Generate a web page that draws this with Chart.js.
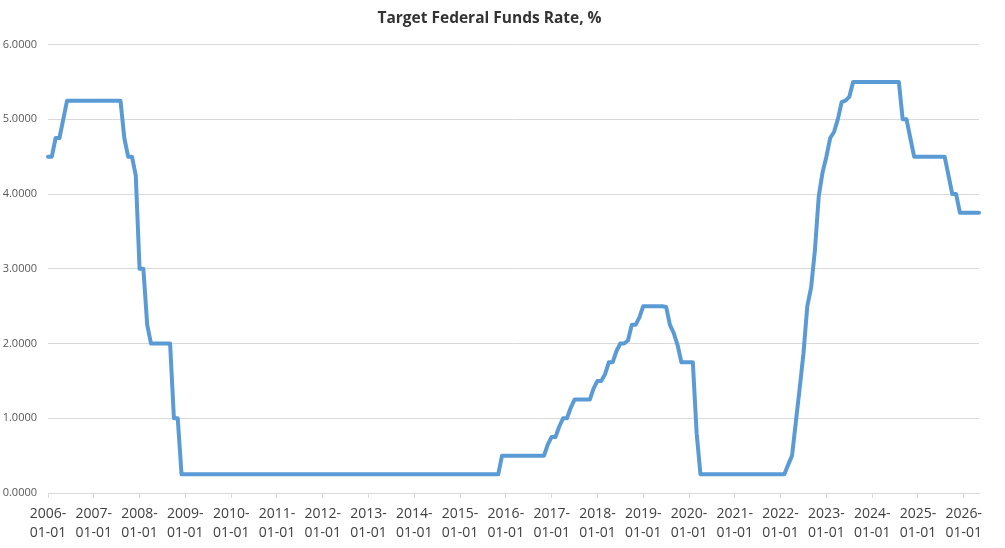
<!DOCTYPE html>
<html lang="en">
<head>
<meta charset="UTF-8">
<title>Target Federal Funds Rate</title>
<script src="https://cdn.jsdelivr.net/npm/chart.js"></script>
<style>
    body { margin: 0; background: #fff; }
    #wrap { width: 1005px; height: 548px; position: relative; }
</style>
</head>
<body>
<div id="wrap"><canvas id="myChart"></canvas></div>
<script>
// monthly values, 2006-01 .. 2026-05
const firstYear = 2006;
const monthsCount = 245;

const rate2006_2008 = [
    4.5, 4.5, 4.75, 4.75, 5.0, 5.25, 5.25, 5.25, 5.25, 5.25, 5.25, 5.25,
    5.25, 5.25, 5.25, 5.25, 5.25, 5.25, 5.25, 5.25, 4.75, 4.5, 4.5, 4.25,
    3.0, 3.0, 2.25, 2.0, 2.0, 2.0, 2.0, 2.0, 2.0, 1.0, 1.0, 0.25
];
const rate2009_2015 = [
    0.25, 0.25, 0.25, 0.25, 0.25, 0.25, 0.25, 0.25, 0.25, 0.25, 0.25, 0.25,
    0.25, 0.25, 0.25, 0.25, 0.25, 0.25, 0.25, 0.25, 0.25, 0.25, 0.25, 0.25,
    0.25, 0.25, 0.25, 0.25, 0.25, 0.25, 0.25, 0.25, 0.25, 0.25, 0.25, 0.25,
    0.25, 0.25, 0.25, 0.25, 0.25, 0.25, 0.25, 0.25, 0.25, 0.25, 0.25, 0.25,
    0.25, 0.25, 0.25, 0.25, 0.25, 0.25, 0.25, 0.25, 0.25, 0.25, 0.25, 0.25,
    0.25, 0.25, 0.25, 0.25, 0.25, 0.25, 0.25, 0.25, 0.25, 0.25, 0.25, 0.25,
    0.25, 0.25, 0.25, 0.25, 0.25, 0.25, 0.25, 0.25, 0.25, 0.25, 0.25, 0.5
];
const rate2016_2019 = [
    0.5, 0.5, 0.5, 0.5, 0.5, 0.5, 0.5, 0.5, 0.5, 0.5, 0.5, 0.65,
    0.75, 0.75, 0.89, 1.0, 1.0, 1.14, 1.25, 1.25, 1.25, 1.25, 1.25, 1.4,
    1.5, 1.5, 1.59, 1.75, 1.75, 1.9, 2.0, 2.0, 2.04, 2.25, 2.25, 2.35,
    2.5, 2.5, 2.5, 2.5, 2.5, 2.5, 2.49, 2.25, 2.14, 1.98, 1.75, 1.75
];
const rate2020_2022 = [
    1.75, 1.75, 0.8, 0.25, 0.25, 0.25, 0.25, 0.25, 0.25, 0.25, 0.25, 0.25,
    0.25, 0.25, 0.25, 0.25, 0.25, 0.25, 0.25, 0.25, 0.25, 0.25, 0.25, 0.25,
    0.25, 0.25, 0.38, 0.5, 0.95, 1.4, 1.87, 2.5, 2.75, 3.25, 3.97, 4.29
];
const rate2023_2026 = [
    4.5, 4.75, 4.83, 5.0, 5.23, 5.25, 5.3, 5.5, 5.5, 5.5, 5.5, 5.5,
    5.5, 5.5, 5.5, 5.5, 5.5, 5.5, 5.5, 5.5, 5.0, 5.0, 4.75, 4.5,
    4.5, 4.5, 4.5, 4.5, 4.5, 4.5, 4.5, 4.5, 4.25, 4.0, 4.0, 3.75,
    3.75, 3.75, 3.75, 3.75, 3.75
];

const yTicks = [0, 1, 2, 3, 4, 5, 6];

const rates = [].concat(rate2006_2008, rate2009_2015, rate2016_2019, rate2020_2022, rate2023_2026);

const dates = [];
for (let i = 0; i < monthsCount; i++) {
    let y = firstYear + Math.floor(i / 12);
    let m = String(i % 12 + 1).padStart(2, '0');
    dates.push(y + '-' + m + '-01');
}

const ctx = document.getElementById('myChart').getContext('2d');
new Chart(ctx, {
    type: 'line',
    data: {
        labels: dates,
        datasets: [{
            label: 'Target Federal Funds Rate, %',
            data: rates,
            borderColor: '#5b9bd5',
            borderWidth: 4,
            pointRadius: 0,
            tension: 0,
            borderJoinStyle: 'round',
            borderCapStyle: 'round'
        }]
    },
    options: {
        responsive: true,
        maintainAspectRatio: false,
        animation: false,
        layout: { padding: { left: 0, right: 26, top: 0, bottom: 0 } },
        plugins: {
            legend: { display: false },
            tooltip: { enabled: false },
            title: {
                display: true,
                text: 'Target Federal Funds Rate, %',
                color: '#333333',
                font: { family: 'Open Sans', size: 15.5, weight: 'bold' },
                padding: { top: 9, bottom: 17 }
            }
        },
        scales: {
            x: {
                offset: false,
                grid: {
                    drawOnChartArea: false,
                    drawTicks: true,
                    tickLength: 5,
                    color: '#d9d9d9'
                },
                border: { display: true, color: '#d9d9d9' },
                ticks: {
                    autoSkip: false,
                    maxRotation: 0,
                    padding: 7,
                    color: '#404040',
                    font: { family: 'Open Sans', size: 14, lineHeight: 1.35 },
                    callback: function(v, i) {
                        if (i % 12 !== 0) return null;
                        let s = dates[i];
                        return [s.slice(0, 5), s.slice(5)];
                    }
                },
                afterFit: s => { s.height = 55; }
            },
            y: {
                min: 0,
                max: 6,
                afterBuildTicks: s => { s.ticks = yTicks.map(v => ({ value: v })); },
                grid: { color: '#d9d9d9', drawTicks: false },
                border: { display: false },
                ticks: {
                    padding: 11,
                    color: '#595959',
                    font: { family: 'Open Sans', size: 11 },
                    callback: v => Number(v).toFixed(4)
                },
                afterFit: s => { s.width = 48; }
            }
        }
    }
});
</script>
</body>
</html>
